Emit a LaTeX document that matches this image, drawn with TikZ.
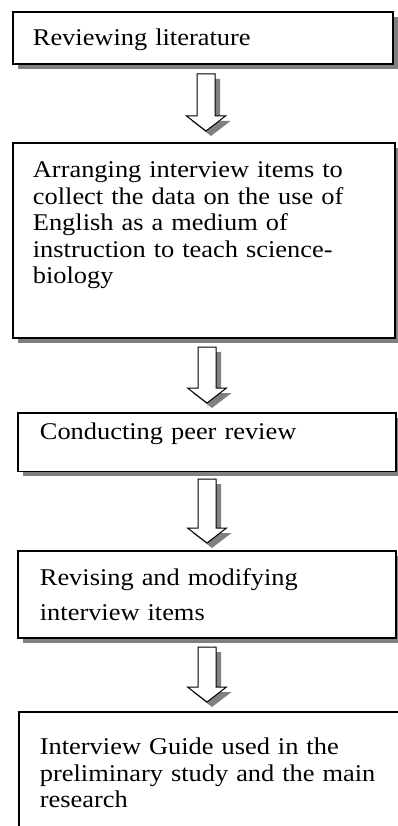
\documentclass[tikz,border=0pt]{standalone}
\usepackage{fontspec}
\setmainfont[FakeStretch=1.1]{Liberation Serif}
\usetikzlibrary{calc,shadows}

\begin{document}
\begin{tikzpicture}[x=1pt,y=-1pt,
  stage/.style={draw,line width=1.8pt,fill=white,anchor=north west,align=left,
    inner ysep=0pt,font=\fontsize{24}{26.5}\selectfont,
    drop shadow={shadow xshift=5pt,shadow yshift=-5pt,fill=black!50,opacity=1}},
  hollow/.style={draw,line width=1pt,fill=white,
    drop shadow={shadow xshift=5pt,shadow yshift=-5pt,fill=black!50,opacity=1}}]

\clip (0,0) rectangle (398,826);

\node[stage,inner xsep=20pt,text width=340pt,text height=34pt,text depth=18pt] (review) at (12,11)
  {Reviewing literature};

\node[stage,inner xsep=20pt,text width=342pt,text height=35pt,text depth=160pt] (arrange) at (12,142)
  {Arranging interview items to\\collect the data on the use of\\English as a medium of\\instruction to teach science-\\biology};

\node[stage,inner xsep=22pt,text width=334pt,text height=26.5pt,text depth=32pt] (peer) at (17,412)
  {Conducting peer review};

\node[stage,inner xsep=22pt,text width=334pt,text height=35pt,text depth=52pt,
  font=\fontsize{24}{35}\selectfont] (revise) at (17,550)
  {Revising and modifying\\interview items};

\node[stage,inner xsep=21pt,text width=360pt,text height=43pt,text depth=150pt] (guide) at (18,711)
  {Interview Guide used in the\\preliminary study and the main\\research};

\coordinate (t1) at (206,74);
\coordinate (h1) at (206,131);
\coordinate (t2) at (207,347);
\coordinate (h2) at (207,403);
\coordinate (t3) at (207,479);
\coordinate (h3) at (207,543);
\coordinate (t4) at (207,647);
\coordinate (h4) at (207,702);

\foreach \i in {1,...,4}
  \draw[hollow] let \p1=(t\i), \p2=(h\i) in
    (\x1-9pt,\y1) -- (\x1+9pt,\y1) -- (\x1+9pt,\y2+15pt) -- (\x1+19.5pt,\y2+15pt)
    -- (\p2) -- (\x1-19.5pt,\y2+15pt) -- (\x1-9pt,\y2+15pt) -- cycle;
\end{tikzpicture}
\end{document}
